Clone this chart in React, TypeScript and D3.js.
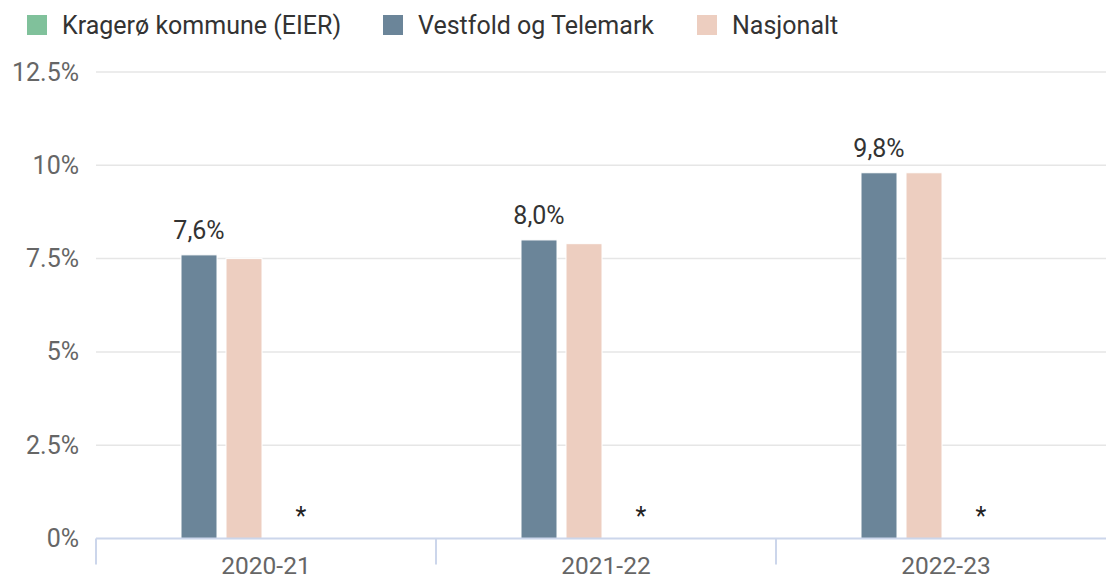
import React, { useRef, useEffect } from 'react';
import * as d3 from 'd3';

// data
const categories = ['2020-21', '2021-22', '2022-23'];
const seriesNames = ['Kragerø kommune (EIER)', 'Vestfold og Telemark', 'Nasjonalt'];
const seriesColors = ['#80c19b', '#6b8599', '#edcec0'];
const kragero: (number | null)[] = [null, null, null]; // no data, shown as *
const vestfold = [7.6, 8.0, 9.8];
const nasjonalt = [7.5, 7.9, 9.8];
const yTicks = [0, 2.5, 5, 7.5, 10, 12.5];
const yTickLabels = ['0%', '2.5%', '5%', '7.5%', '10%', '12.5%'];

const width = 1106;
const height = 578;
const font = 'Roboto, "Noto Sans", sans-serif';
const fs = '25px';

function App() {
  const ref = useRef<SVGSVGElement>(null);

  useEffect(() => {
    const svg = d3.select(ref.current);
    svg.selectAll('*').remove();

    const x = d3.scaleBand().domain(categories).range([96, 1116]);
    const y = d3.scaleLinear().domain([0, 12.5]).range([538.5, 72]);
    // bars inside each category: Vestfold, Nasjonalt, then the empty Kragerø slot
    const x1 = d3.scaleBand().domain(['vt', 'nas', 'kr']).range([85, 211]).paddingInner(0.2);

    // gridlines
    svg.append('g')
      .selectAll('line')
      .data(yTicks.slice(1))
      .enter()
      .append('line')
      .attr('x1', 96)
      .attr('x2', width)
      .attr('y1', d => y(d))
      .attr('y2', d => y(d))
      .attr('stroke', '#e6e6e6')
      .attr('stroke-width', 1.5);

    // y labels
    svg.append('g')
      .selectAll('text')
      .data(yTicks)
      .enter()
      .append('text')
      .attr('x', 79)
      .attr('y', d => y(d) + 8.5)
      .attr('text-anchor', 'end')
      .style('font-family', font)
      .style('font-size', fs)
      .style('fill', '#666')
      .text((d, i) => yTickLabels[i]);

    const rows = categories.map((c, i) => ({ cat: c, vt: vestfold[i], nas: nasjonalt[i], kr: kragero[i] }));

    const groups = svg.selectAll('.grp')
      .data(rows)
      .enter()
      .append('g')
      .attr('class', 'grp')
      .attr('transform', d => `translate(${x(d.cat)},0)`);

    groups.append('rect')
      .attr('x', x1('vt')!)
      .attr('y', d => y(d.vt))
      .attr('width', x1.bandwidth())
      .attr('height', d => y(0) - y(d.vt))
      .style('fill', seriesColors[1])
      .style('stroke', '#fff')
      .style('stroke-width', 1);

    groups.append('rect')
      .attr('x', x1('nas')!)
      .attr('y', d => y(d.nas))
      .attr('width', x1.bandwidth())
      .attr('height', d => y(0) - y(d.nas))
      .style('fill', seriesColors[2])
      .style('stroke', '#fff')
      .style('stroke-width', 1);

    // value labels above the Vestfold bar
    groups.append('text')
      .attr('x', x1('vt')! + x1.bandwidth() / 2)
      .attr('y', d => y(d.vt) - 15.5)
      .attr('text-anchor', 'middle')
      .style('font-family', font)
      .style('font-size', fs)
      .style('fill', '#333')
      .text(d => d.vt.toFixed(1).replace('.', ',') + '%');

    // missing Kragerø values
    groups.filter(d => d.kr == null)
      .append('text')
      .attr('x', x1('kr')! + x1.bandwidth() / 2 + 12)
      .attr('y', y(0) - 14)
      .attr('text-anchor', 'middle')
      .style('font-family', font)
      .style('font-size', fs)
      .style('fill', '#222')
      .text('*');

    // x axis
    svg.append('line')
      .attr('x1', 96)
      .attr('x2', width)
      .attr('y1', y(0))
      .attr('y2', y(0))
      .attr('stroke', '#ccd6eb')
      .attr('stroke-width', 2);

    svg.append('g')
      .selectAll('line')
      .data(categories.concat(['end']))
      .enter()
      .append('line')
      .attr('x1', (d, i) => 96 + i * x.bandwidth())
      .attr('x2', (d, i) => 96 + i * x.bandwidth())
      .attr('y1', y(0))
      .attr('y2', y(0) + 26)
      .attr('stroke', '#ccd6eb')
      .attr('stroke-width', 2);

    svg.append('g')
      .selectAll('text')
      .data(categories)
      .enter()
      .append('text')
      .attr('x', d => x(d)! + x.bandwidth() / 2)
      .attr('y', 573.5)
      .attr('text-anchor', 'middle')
      .style('font-family', font)
      .style('font-size', '24.5px')
      .style('fill', '#666')
      .text(d => d);

    // legend
    const legendX = [27, 383, 697];
    const legend = svg.append('g')
      .selectAll('g')
      .data(seriesNames)
      .enter()
      .append('g')
      .attr('transform', (d, i) => `translate(${legendX[i]},0)`);
    legend.append('rect')
      .attr('x', 0)
      .attr('y', 15)
      .attr('width', 20)
      .attr('height', 20)
      .style('fill', (d, i) => seriesColors[i]);
    legend.append('text')
      .attr('x', 35)
      .attr('y', 34)
      .style('font-family', font)
      .style('font-size', fs)
      .style('fill', '#333')
      .text(d => d);
  }, []);

  return (
    <svg
      ref={ref}
      width={width}
      height={height}
      style={{ position: 'absolute', left: 0, top: 0, background: '#fff' }}
    />
  );
}

export default App;
